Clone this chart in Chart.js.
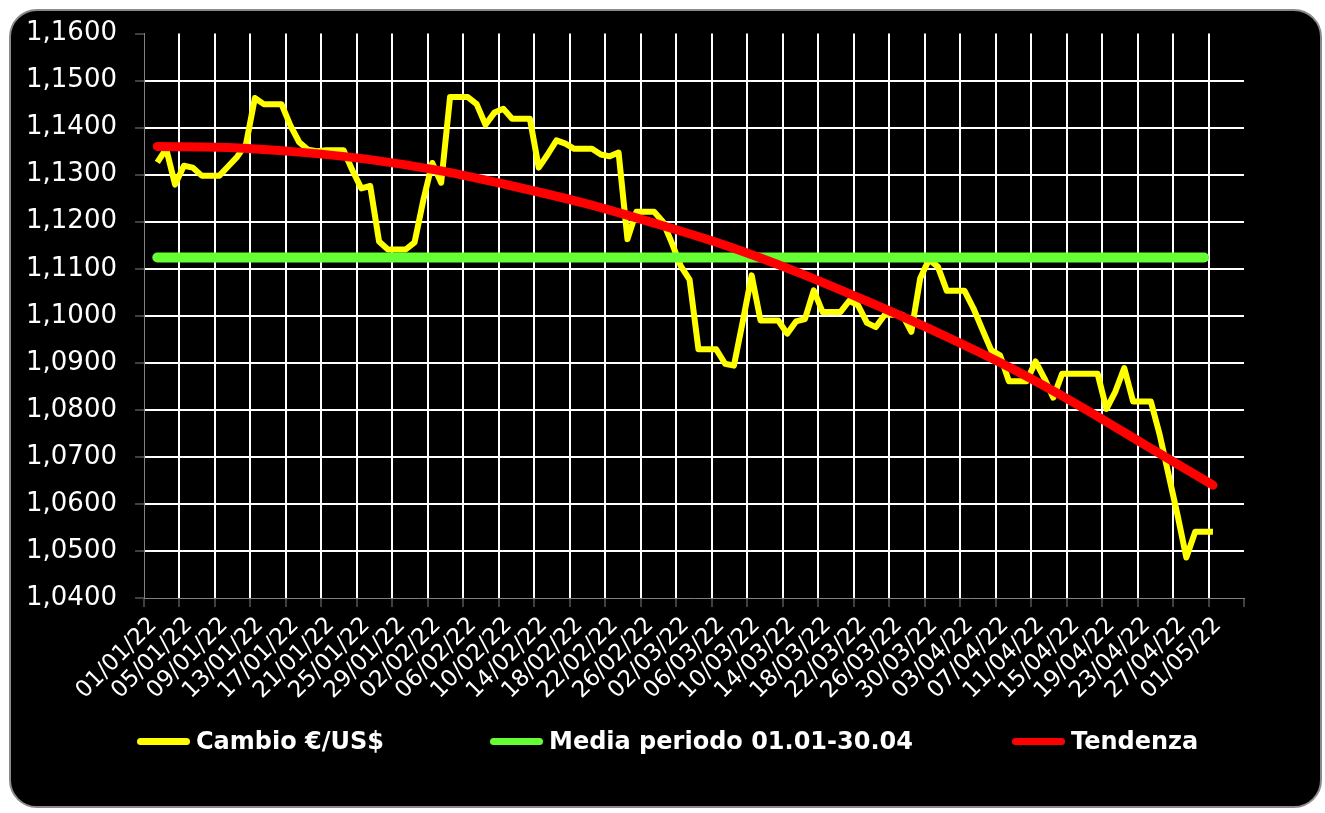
<!DOCTYPE html>
<html>
<head>
<meta charset="utf-8">
<script src="https://cdn.jsdelivr.net/npm/chart.js@4.4.1/dist/chart.umd.min.js"></script>
<style>
  html, body { margin: 0; padding: 0; background: #ffffff; width: 1325px; height: 813px; overflow: hidden; }
  #frame { position: absolute; left: 9px; top: 9px; width: 1313px; height: 799px; box-sizing: border-box;
           background: #000; border: 2px solid #8a8a8a; border-radius: 28px; }
  #c { position: absolute; left: 0; top: 0; }
  .lg { position: absolute; top: 726px; height: 30px; display: flex; align-items: center;
        font-family: 'DejaVu Sans', Verdana, sans-serif; font-weight: bold; font-size: 24px; color: #fff; white-space: nowrap; }
  .lg .sw { width: 53px; height: 7px; border-radius: 4px; margin-right: 6px; }
</style>
</head>
<body>
<div id="frame"></div>
<canvas id="c" width="1325" height="813"></canvas>
<div id="legend"></div>
<script>
// ---- DATA ----
// Daily categories 01/01/22 .. 03/05/22 (124 days on the axis)
const startDate = Date.UTC(2022, 0, 1);
const dayCount = 124;
const categories = [];
for (let i = 0; i < dayCount; i++) {
  const d = new Date(startDate + i * 86400000);
  const dd = String(d.getUTCDate()).padStart(2, '0');
  const mm = String(d.getUTCMonth() + 1).padStart(2, '0');
  categories.push(dd + '/' + mm + '/22');
}
// Labels shown every 4 days, up to 01/05/22
const tickLabels = ['01/01/22','05/01/22','09/01/22','13/01/22','17/01/22','21/01/22','25/01/22','29/01/22',
  '02/02/22','06/02/22','10/02/22','14/02/22','18/02/22','22/02/22','26/02/22','02/03/22','06/03/22',
  '10/03/22','14/03/22','18/03/22','22/03/22','26/03/22','30/03/22','03/04/22','07/04/22','11/04/22',
  '15/04/22','19/04/22','23/04/22','27/04/22','01/05/22'];

// Cambio EUR/USD, daily from 02/01/22 to 01/05/22
const cambioStart = '02/01/22';
const cambio = [
  1.1326, 1.1355, 1.1279, 1.1319, 1.1315, 1.1298, 1.1298, 1.1298, 1.1318, 1.1338,
  1.1365, 1.1463, 1.1450, 1.1450, 1.1450, 1.1405, 1.1369, 1.1353, 1.1350, 1.1352,
  1.1352, 1.1352, 1.1309, 1.1271, 1.1276, 1.1158, 1.1141, 1.1141, 1.1141, 1.1156,
  1.1247, 1.1325, 1.1283, 1.1465, 1.1465, 1.1465, 1.1450, 1.1406, 1.1432, 1.1440,
  1.1419, 1.1419, 1.1419, 1.1315, 1.1343, 1.1373, 1.1366, 1.1355, 1.1355, 1.1355,
  1.1343, 1.1339, 1.1347, 1.1163, 1.1221, 1.1221, 1.1221, 1.1200, 1.1155, 1.1106,
  1.1077, 1.0929, 1.0929, 1.0929, 1.0898, 1.0894, 1.0988, 1.1086, 1.0990, 1.0990,
  1.0990, 1.0962, 1.0988, 1.0993, 1.1054, 1.1008, 1.1008, 1.1008, 1.1032, 1.1022,
  1.0985, 1.0976, 1.1002, 1.1002, 1.1002, 1.0966, 1.1080, 1.1120, 1.1104, 1.1053,
  1.1053, 1.1053, 1.1016, 1.0971, 1.0927, 1.0916, 1.0861, 1.0861, 1.0861, 1.0903,
  1.0867, 1.0826, 1.0877, 1.0877, 1.0877, 1.0877, 1.0877, 1.0802, 1.0839, 1.0889,
  1.0818, 1.0818, 1.0818, 1.0747, 1.0662, 1.0577, 1.0486, 1.0541, 1.0541, 1.0541
];

// Media periodo 01.01-30.04
const mediaValue = 1.1124;
const mediaFrom = '02/01/22';
const mediaTo = '30/04/22';

// Tendenza
const trendDates = ['02/01/22','10/01/22','18/01/22','26/01/22','03/02/22','11/02/22','19/02/22','27/02/22',
  '07/03/22','15/03/22','23/03/22','31/03/22','08/04/22','16/04/22','24/04/22','01/05/22'];
const trendValues = [1.1360, 1.1358, 1.1348, 1.1332, 1.1308, 1.1276, 1.1240, 1.1197,
  1.1150, 1.1094, 1.1031, 1.0964, 1.0891, 1.0808, 1.0718, 1.0640];

const seriesNames = ['Cambio €/US$', 'Media periodo 01.01-30.04', 'Tendenza'];
const seriesColors = ['#FFFF00', '#66FF33', '#FF0000'];

// ---- BUILD ----
const c0 = categories.indexOf(cambioStart);
const cambioData = cambio.map((v, i) => ({ x: categories[c0 + i], y: v }));
const mediaData = [{ x: mediaFrom, y: mediaValue }, { x: mediaTo, y: mediaValue }];
const trendData = trendDates.map((d, i) => ({ x: d, y: trendValues[i] }));

const GRAY = '#808080';
const NONE = 'rgba(0,0,0,0)';

new Chart(document.getElementById('c'), {
  type: 'line',
  data: {
    labels: categories,
    datasets: [
      { label: seriesNames[0], data: cambioData, borderColor: seriesColors[0], backgroundColor: seriesColors[0],
        borderWidth: 6, pointRadius: 0, tension: 0, borderJoinStyle: 'round', order: 2 },
      { label: seriesNames[1], data: mediaData, borderColor: seriesColors[1], backgroundColor: seriesColors[1],
        borderWidth: 10, pointRadius: 0, borderCapStyle: 'round', order: 1 },
      { label: seriesNames[2], data: trendData, borderColor: seriesColors[2], backgroundColor: seriesColors[2],
        borderWidth: 9, pointRadius: 0, borderCapStyle: 'round', cubicInterpolationMode: 'monotone', order: 0 }
    ]
  },
  options: {
    responsive: false,
    animation: false,
    devicePixelRatio: 1,
    events: [],
    layout: { padding: { left: 0, top: 33, right: 81, bottom: 0 } },
    plugins: { legend: { display: false }, tooltip: { enabled: false } },
    scales: {
      x: {
        type: 'category',
        offset: true,
        afterFit: (s) => { s.height = 215; },
        grid: {
          offset: true,
          lineWidth: 2,
          tickLength: 9,
          color: (ctx) => (ctx.index !== undefined && ctx.index % 4 === 0 && ctx.index > 0) ? '#ffffff' : NONE,
          tickColor: (ctx) => (ctx.index === undefined || ctx.index % 4 === 0) ? GRAY : NONE,
          tickWidth: 1
        },
        border: { color: GRAY, width: 1 },
        ticks: {
          autoSkip: false,
          minRotation: 45,
          maxRotation: 45,
          color: '#ffffff',
          padding: 5,
          labelOffset: 5,
          font: { family: 'DejaVu Sans', size: 23 },
          callback: function (value, index) {
            const lab = categories[index];
            return tickLabels.includes(lab) && index % 4 === 0 ? lab : '';
          }
        }
      },
      y: {
        min: 1.04,
        max: 1.16,
        afterFit: (s) => { s.width = 144; },
        grid: {
          lineWidth: 2,
          tickLength: 9,
          color: (ctx) => (ctx.tick && ctx.tick.value > 1.0405 && ctx.tick.value < 1.1595) ? '#ffffff' : NONE,
          tickColor: GRAY,
          tickWidth: 1
        },
        border: { color: GRAY, width: 1 },
        ticks: {
          stepSize: 0.01,
          color: '#ffffff',
          padding: 18,
          font: { family: 'DejaVu Sans', size: 26 },
          callback: (v) => Number(v).toFixed(4).replace('.', ',')
        }
      }
    }
  }
});

// ---- LEGEND (HTML, from the dataset names/colours) ----
const legendLeft = [137, 490, 1012];
const legendEl = document.getElementById('legend');
seriesNames.forEach((name, i) => {
  const item = document.createElement('div');
  item.className = 'lg';
  item.style.left = legendLeft[i] + 'px';
  const sw = document.createElement('span');
  sw.className = 'sw';
  sw.style.background = seriesColors[i];
  const tx = document.createElement('span');
  tx.textContent = name;
  item.appendChild(sw);
  item.appendChild(tx);
  legendEl.appendChild(item);
});
</script>
</body>
</html>
